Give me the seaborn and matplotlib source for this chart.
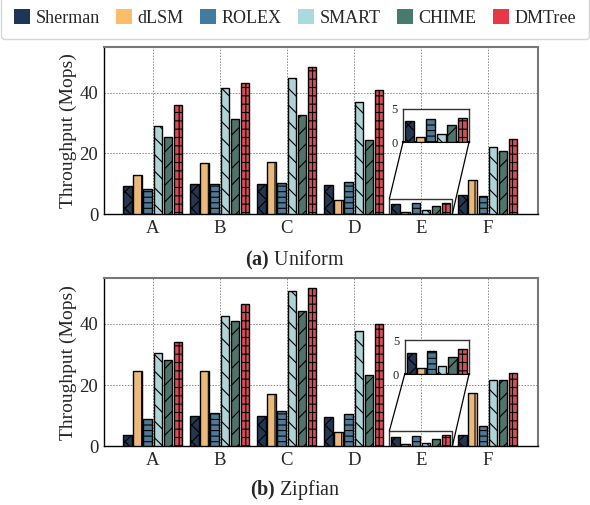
import numpy as np
import pandas as pd
import matplotlib
matplotlib.use("Agg")
import matplotlib.pyplot as plt
import seaborn as sns
from matplotlib.patches import Patch, Rectangle, ConnectionPatch

workloads = ["A", "B", "C", "D", "E", "F"]
systems = ["Sherman", "dLSM", "ROLEX", "SMART", "CHIME", "DMTree"]

uniform_sherman = [9.3, 9.9, 9.9, 9.6, 3.2, 6.3]
uniform_dlsm = [12.8, 16.8, 17.3, 4.7, 0.8, 11.3]
uniform_rolex = [8.2, 10.0, 10.2, 10.5, 3.5, 5.9]
uniform_smart = [29.0, 41.5, 44.9, 37.0, 1.2, 22.0]
uniform_chime = [25.4, 31.3, 32.7, 24.4, 2.55, 20.7]
uniform_dmtree = [35.9, 43.1, 48.4, 41.0, 3.65, 24.8]

zipf_sherman = [3.7, 9.9, 9.9, 9.6, 3.17, 3.6]
zipf_dlsm = [24.7, 24.5, 17.0, 4.7, 0.84, 17.4]
zipf_rolex = [8.9, 11.0, 11.6, 10.5, 3.47, 6.6]
zipf_smart = [30.3, 42.5, 50.7, 37.5, 1.24, 21.7]
zipf_chime = [28.3, 40.9, 44.1, 23.4, 2.58, 21.7]
zipf_dmtree = [34.2, 46.5, 51.7, 39.9, 3.67, 23.8]

colors = ["#1d3557", "#fbbd6a", "#437ba0", "#a9dadc", "#477b6e", "#e63946"]
hatches = ["xx", "|", "---", "\\\\", "//", "++"]

sns.set_theme(style="white")
plt.rcParams["font.family"] = ["Liberation Serif", "DejaVu Serif"]
plt.rcParams["mathtext.fontset"] = "custom"
plt.rcParams["mathtext.rm"] = "Liberation Serif"
plt.rcParams["mathtext.bf"] = "Liberation Serif:bold"
plt.rcParams["hatch.linewidth"] = 0.8


def make_df(vals):
    rows = []
    for s, v in zip(systems, vals):
        for w, x in zip(workloads, v):
            rows.append({"workload": w, "system": s, "value": x})
    return pd.DataFrame(rows)


def draw(ax, df):
    sns.barplot(data=df, x="workload", y="value", hue="system",
                order=workloads, hue_order=systems, palette=colors,
                width=0.9, gap=0.15, edgecolor="black", linewidth=1.0,
                legend=False, ax=ax, zorder=3)
    for i, bar in enumerate(ax.patches):
        h = i // len(workloads)
        if h < len(hatches):
            bar.set_hatch(hatches[h])


fig = plt.figure(figsize=(5.9, 5.05), dpi=100)
ax1 = fig.add_axes([0.176, 0.576, 0.736, 0.331])
ax2 = fig.add_axes([0.176, 0.116, 0.736, 0.334])

datasets = [
    (ax1, make_df([uniform_sherman, uniform_dlsm, uniform_rolex, uniform_smart, uniform_chime, uniform_dmtree]),
     r"$\mathbf{(a)}$ Uniform", 0.485, [0.689, 0.431, 0.152, 0.198]),
    (ax2, make_df([zipf_sherman, zipf_dlsm, zipf_rolex, zipf_smart, zipf_chime, zipf_dmtree]),
     r"$\mathbf{(b)}$ Zipfian", 0.030, [0.693, 0.429, 0.148, 0.2]),
]

for ax, df, cap, capy, inset_pos in datasets:
    draw(ax, df)
    ax.set_xlim(-0.73, 5.75)
    ax.set_ylim(0, 55)
    ax.set_yticks([0, 20, 40])
    ax.set_xlabel("")
    ax.set_ylabel("Throughput (Mops)", fontsize=14, labelpad=2)
    ax.tick_params(axis="both", direction="in", labelsize=13.5, length=4,
                   color="black", width=0.8, pad=4)
    ax.grid(True, linestyle=(0, (1.5, 1.5)), color="#888888", linewidth=0.7, zorder=0)
    ax.set_axisbelow(True)
    for side in ["left", "bottom"]:
        ax.spines[side].set_color("black")
        ax.spines[side].set_linewidth(1.0)
    for side in ["top", "right"]:
        ax.spines[side].set_color("#777777")
        ax.spines[side].set_linewidth(1.5)

    # inset zoom on workload E
    x0, x1 = 4 - 0.47, 4 + 0.47
    ins = ax.inset_axes(inset_pos)
    draw(ins, df)
    ins.set_xlim(x0, x1)
    ins.set_ylim(0, 5)
    ins.set_xticks([])
    ins.set_yticks([0, 5])
    ins.set_xlabel("")
    ins.set_ylabel("")
    ins.tick_params(axis="y", direction="out", labelsize=9, length=3, pad=1)
    ins.grid(False)
    ins.set_facecolor("white")
    for sp in ins.spines.values():
        sp.set_color("#333333")
        sp.set_linewidth(1.0)
    ins.spines["bottom"].set_color("black")
    ins.spines["bottom"].set_linewidth(1.5)

    rect = Rectangle((x0, 0), x1 - x0, 5, fill=False, edgecolor="#333333",
                     linewidth=1.0, zorder=5)
    ax.add_patch(rect)
    c1 = ConnectionPatch(xyA=(x0, 5), coordsA=ax.transData,
                         xyB=(x0, 0), coordsB=ins.transData,
                         color="black", linewidth=0.9, zorder=5)
    c2 = ConnectionPatch(xyA=(x1, 0), coordsA=ax.transData,
                         xyB=(x1, 0), coordsB=ins.transData,
                         color="black", linewidth=0.9, zorder=5)
    ax.add_artist(c1)
    ax.add_artist(c2)

    fig.text(0.5, capy, cap, ha="center", va="center", fontsize=14.5)

handles = [Patch(facecolor=c, edgecolor="none") for c in colors]
leg = fig.legend(handles, systems, loc="upper center", bbox_to_anchor=(0.5, 1.025),
                 ncol=6, fontsize=13, frameon=True, fancybox=True,
                 handlelength=0.9, handleheight=0.9, handletextpad=0.3,
                 columnspacing=0.9, borderpad=0.7)
leg.get_frame().set_edgecolor("#cccccc")
leg.get_frame().set_linewidth(1.0)

fig.savefig("out.png", dpi=100)
